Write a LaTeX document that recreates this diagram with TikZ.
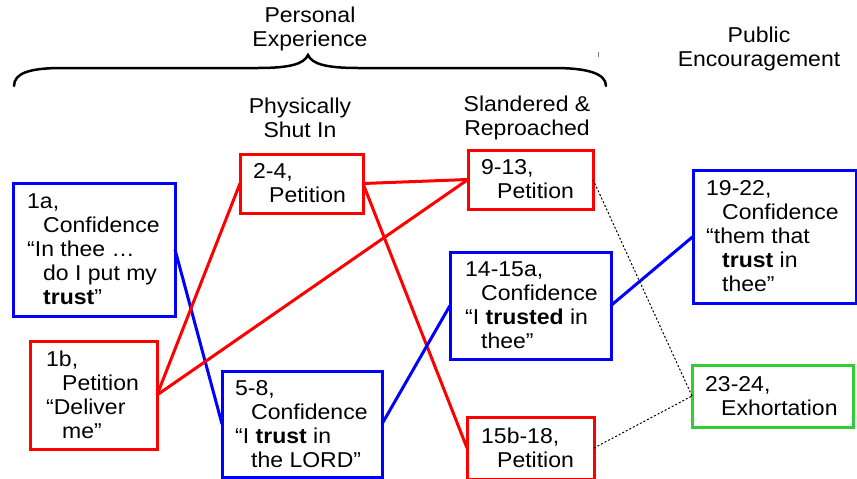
\documentclass[tikz,border=0pt]{standalone}
\usepackage{fontspec}
\setmainfont{Liberation Sans}[FakeStretch=1.07]
\newcommand\myind{\hspace*{16pt}}
\definecolor{myred}{RGB}{255,0,0}
\definecolor{myblue}{RGB}{0,0,255}
\definecolor{mygreen}{RGB}{50,205,50}
\begin{document}
\begin{tikzpicture}[x=1pt,y=-1pt,
  box/.style={draw, line width=3pt, inner sep=0pt, outer sep=0pt, fill=none},
  redbox/.style={box, draw=myred},
  bluebox/.style={box, draw=myblue},
  greenbox/.style={box, draw=mygreen},
  txt/.style={inner sep=0pt, align=left, anchor=west, font=\fontsize{21.5}{24}\selectfont},
  head/.style={inner sep=0pt, align=center, font=\fontsize{21.5}{24}\selectfont},
  redline/.style={draw=myred, line width=3pt},
  blueline/.style={draw=myblue, line width=3pt},
  dotline/.style={draw=black, line width=1pt, dash pattern=on 2pt off 2pt}]
\useasboundingbox (0,0) rectangle (857,479);
% headings
\node[head] (hpe) at (310,29) {Personal\\Experience};
\node[head] (hps) at (300,118) {Physically\\Shut In};
\node[head] (hsr) at (527,118) {Slandered \&\\Reproached};
\node[head] (hpub) at (759,49) {Public\\Encouragement};
% brace
\draw[line width=2.5pt, line cap=round] (14,86) .. controls (14,73) and (30,68) .. (62,68) -- (258,68) .. controls (290,68) and (304,64) .. (308,55) .. controls (312,64) and (326,68) .. (358,68) -- (554,68) .. controls (586,68) and (606,73) .. (606,86);
\draw[gray, line width=1pt] (598,52) -- (598,57);
% boxes
\node[bluebox, minimum width=162, minimum height=133] (b1a) at (94,249.5) {};
\node[redbox, minimum width=127, minimum height=108] (b1b) at (93.5,395) {};
\node[redbox, minimum width=123, minimum height=59] (b24) at (301.5,183.5) {};
\node[redbox, minimum width=125, minimum height=59] (b913) at (530.5,179.5) {};
\node[bluebox, minimum width=161, minimum height=107] (b1415) at (530.5,305.5) {};
\node[bluebox, minimum width=160, minimum height=106] (b58) at (302,424) {};
\node[redbox, minimum width=127, minimum height=62] (b1518) at (530.5,448) {};
\node[bluebox, minimum width=163, minimum height=133] (b1922) at (774.5,236.5) {};
\node[greenbox, minimum width=161, minimum height=62] (b2324) at (772.5,396) {};
% texts
\node[txt] (t1a) at ([xshift=14pt]b1a.west) {1a,\\\myind Confidence\\“In thee …\\\myind do I put my\\\myind\textbf{trust}”};
\node[txt] (t1b) at ([xshift=16pt]b1b.west) {1b,\\\myind Petition\\“Deliver\\\myind me”};
\node[txt] (t24) at ([xshift=13pt]b24.west) {2-4,\\\myind Petition};
\node[txt] (t913) at ([xshift=13pt]b913.west) {9-13,\\\myind Petition};
\node[txt] (t1415) at ([xshift=15pt]b1415.west) {14-15a,\\\myind Confidence\\“I \textbf{trusted} in\\\myind thee”};
\node[txt] (t58) at ([xshift=13pt]b58.west) {5-8,\\\myind Confidence\\“I \textbf{trust} in\\\myind the LORD”};
\node[txt] (t1518) at ([xshift=14pt]b1518.west) {15b-18,\\\myind Petition};
\node[txt] (t1922) at ([xshift=13pt]b1922.west) {19-22,\\\myind Confidence\\“them that\\\myind\textbf{trust} in\\\myind thee”};
\node[txt] (t2324) at ([xshift=13pt]b2324.west) {23-24,\\\myind Exhortation};
% connectors
\draw[blueline] (b1a.east) -- (b58.west);
\draw[redline] (b1b.east) -- (b24.west);
\draw[redline] (b1b.east) -- (b913.west);
\draw[redline] (b24.east) -- (b913.west);
\draw[redline] (b24.east) -- (b1518.west);
\draw[blueline] (b58.east) -- (b1415.west);
\draw[blueline] (b1415.east) -- (b1922.west);
\draw[dotline] (b913.east) -- (b2324.west);
\draw[dotline] (b1518.east) -- (b2324.west);
\end{tikzpicture}
\end{document}
